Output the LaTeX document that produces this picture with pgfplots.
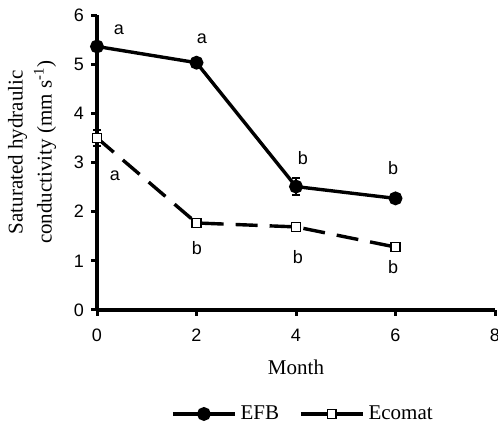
\documentclass[border=0pt]{standalone}
\usepackage{fontspec}
\setmainfont{Liberation Serif}
\newfontfamily\arial{Liberation Sans}
\usepackage{pgfplots}
\pgfplotsset{compat=1.18}
\begin{document}
\begin{tikzpicture}
\begin{axis}[
  scale only axis, width=199pt, height=147.5pt,
  xmin=0, xmax=8, ymin=0, ymax=6,
  axis lines*=left,
  axis line style={line width=2pt, black},
  xtick={0,2,4,6,8}, ytick={0,1,2,3,4,5,6},
  tick align=outside, major tick length=3pt,
  tick style={line width=1.5pt, black},
  /pgf/number format/assume math mode=true,
  ticklabel style={font=\arial\fontsize{9}{10}\selectfont},
  xticklabel style={yshift=-3pt},
  yticklabel style={xshift=0pt},
  clip=false,
  xlabel={Month},
  xlabel style={font=\fontsize{10.5}{12}\selectfont, at={(axis description cs:0.5,0)}, anchor=center, yshift=-28.5pt},
  ylabel={Saturated hydraulic\\conductivity (mm s\textsuperscript{-1})},
  ylabel style={font=\fontsize{10.5}{14.5}\selectfont, align=center, at={(axis description cs:-0.163,0.535)}, anchor=center},
  legend columns=2,
  legend style={draw=none, fill=none, at={(axis description cs:0.52,-0.3525)}, anchor=center, font=\fontsize{10.5}{12}\selectfont, /tikz/every even column/.append style={column sep=8pt}},
  legend image code/.code={
    \draw[solid, line width=1.7pt] (0pt,0pt) -- (31pt,0pt);
    \draw[solid] plot coordinates {(15.5pt,0pt)};
  },
]
\addplot[black, line width=1.7pt, mark=*, mark size=2.6pt, mark options={solid},
  error bars/.cd, y dir=both, y explicit,
  error bar style={line width=1pt, solid},
  error mark options={rotate=90, mark size=2pt, line width=1pt}]
  coordinates {(0,5.36) +- (0,0.08) (2,5.03) +- (0,0.06) (4,2.51) +- (0,0.18) (6,2.27) +- (0,0.08)};
\addlegendentry{EFB}
\addplot[black, line width=1.7pt, dash pattern=on 11pt off 6pt, mark=square*, mark size=2.2pt, mark options={solid, fill=white, line width=0.8pt},
  error bars/.cd, y dir=both, y explicit,
  error bar style={line width=1pt, solid},
  error mark options={rotate=90, mark size=2pt, line width=1pt}]
  coordinates {(0,3.50) +- (0,0.16) (2,1.77) +- (0,0.06) (4,1.69) +- (0,0.05) (6,1.28) +- (0,0.06)};
\addlegendentry{Ecomat}
\begin{scope}[every node/.style={font=\arial\fontsize{9}{10}\selectfont, anchor=center}]
\node at (axis cs:0.44,5.71) {a};
\node at (axis cs:2.11,5.51) {a};
\node at (axis cs:4.14,3.09) {b};
\node at (axis cs:5.95,2.89) {b};
\node at (axis cs:0.36,2.74) {a};
\node at (axis cs:2.01,1.26) {b};
\node at (axis cs:4.04,1.08) {b};
\node at (axis cs:5.95,0.87) {b};
\end{scope}
\coordinate (O) at (axis cs:0,0);
\end{axis}
\pgfresetboundingbox
\path[use as bounding box] ([shift={(-48.5pt,-58pt)}]O) rectangle ([shift={(200.5pt,155pt)}]O);
\end{tikzpicture}
\end{document}
